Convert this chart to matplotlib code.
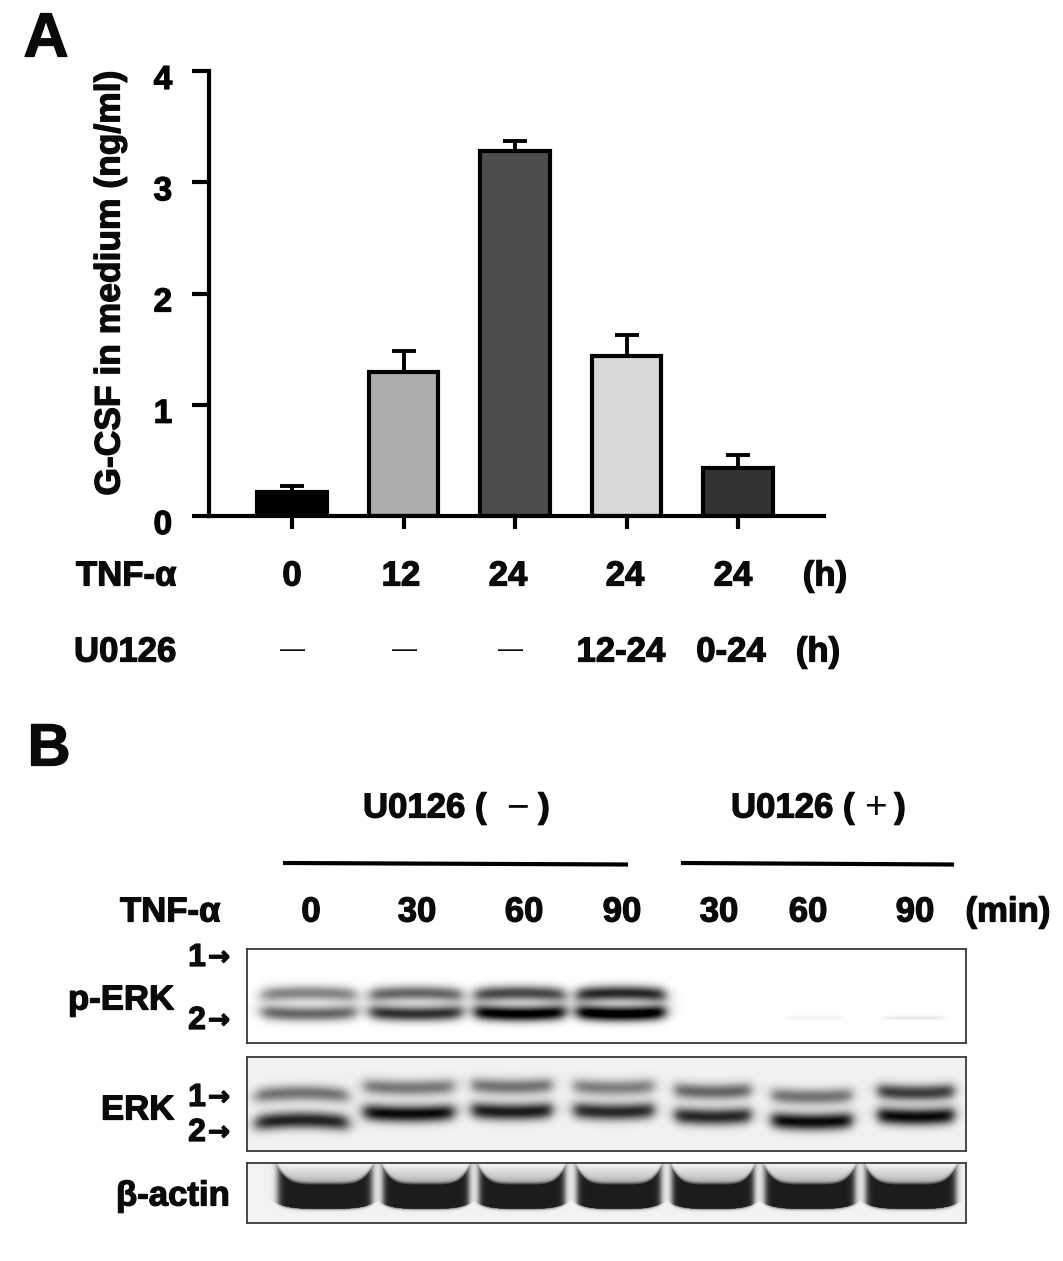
import numpy as np
import matplotlib
matplotlib.use("Agg")
import matplotlib.pyplot as plt
import matplotlib.patheffects as pe
from matplotlib.transforms import ScaledTranslation

plt.rcParams['font.family'] = ['Liberation Sans', 'DejaVu Sans']
plt.rcParams['font.weight'] = 'bold'

# ---------- panel A data ----------
groups = ['0', '12', '24', '24', '24']
u0126_labels = ['—', '—', '—', '12-24', '0-24']
gcsf = [0.22, 1.29, 3.28, 1.44, 0.43]
gcsf_err = [0.05, 0.19, 0.09, 0.19, 0.12]
bar_colors = ['#000000', '#adadad', '#4d4d4d', '#d9d9d9', '#333333']
y_ticks = [0, 1, 2, 3, 4]

# ---------- panel B data (relative band density per lane) ----------
time_labels = ['0', '30', '60', '90', '30', '60', '90']
perk_upper = [0.48, 0.60, 0.72, 0.85, 0.0, 0.0, 0.0]
perk_lower = [0.60, 0.82, 1.05, 1.10, 0.0, 0.06, 0.08]
erk_upper = [0.50, 0.48, 0.50, 0.45, 0.55, 0.50, 0.72]
erk_lower = [0.82, 0.92, 0.85, 0.80, 0.80, 0.92, 0.92]
actin_band = [0.84, 0.84, 0.84, 0.84, 0.84, 0.84, 0.84]

W, H = 1063, 1261
fig = plt.figure(figsize=(W / 100, H / 100), dpi=100, facecolor='white')
heavy = [pe.withStroke(linewidth=0.9, foreground='#0a0a0a')]


def px_axes(l, t, r, b, **kw):
    return fig.add_axes([l / W, 1 - b / H, (r - l) / W, (b - t) / H], **kw)


# ---------- bar chart ----------
step = 111.5
x0 = 292
ax = px_axes(209, 71, 824, 516)
ax.set_xlim((209 - x0) / step, (824 - x0) / step)
ax.set_ylim(0, 4)
xpos = np.arange(len(gcsf))
ax.errorbar(xpos, gcsf, yerr=[np.zeros(5), gcsf_err], fmt='none', ecolor='black',
            elinewidth=2.8, capsize=8.5, capthick=2.8, zorder=1)
ax.bar(xpos, gcsf, width=0.62, color=bar_colors, edgecolor='black', linewidth=3, zorder=2)
for s in ('top', 'right'):
    ax.spines[s].set_visible(False)
ax.spines['left'].set_linewidth(3)
ax.spines['bottom'].set_linewidth(3)
ax.set_yticks(y_ticks)
ax.set_xticks(xpos)
ax.set_xticklabels([])
ax.tick_params(axis='y', length=12.5, width=3, pad=14, labelsize=24)
ax.tick_params(axis='x', length=9, width=3)
shift = ScaledTranslation(0, -6 / 100, fig.dpi_scale_trans)
for lab in ax.get_yticklabels():
    lab.set_transform(lab.get_transform() + shift)
    lab.set_fontweight('bold')
    lab.set_path_effects(heavy)


# ---------- blots ----------
def band_image(l, t, r, b, lanes, bg):
    xs, ys = np.meshgrid(np.arange(l, r) + 0.5, np.arange(t, b) + 0.5)
    dens = np.zeros_like(xs)
    for c, hw, yc, sig, amp, curve in lanes:
        u = (xs - c) / hw
        prof_x = 0.5 * (np.tanh((u + 1) * 6) - np.tanh((u - 1) * 6))
        dens += amp * prof_x * np.exp(-((ys - yc + curve * u ** 2) / sig) ** 2)
    return np.clip(bg - dens, 0, 1)


def draw_blot(l, t, r, b, img):
    a = px_axes(l, t, r, b)
    a.imshow(img, cmap='gray', vmin=0, vmax=1, aspect='auto',
             extent=(l, r, b, t), interpolation='bilinear')
    a.set_xticks([])
    a.set_yticks([])
    for s in a.spines.values():
        s.set_linewidth(1.3)
        s.set_color('#3a3a3a')


perk_x = [309, 416, 520, 621, 716, 815, 914]
perk_hw = [47, 46, 45, 44, 28, 28, 30]
lanes = []
for i in range(7):
    lanes.append((perk_x[i], perk_hw[i], 993, 7.5, perk_upper[i], -2))
    faint = i > 4
    lanes.append((perk_x[i], perk_hw[i], 1018 if faint else 1014, 2 if faint else 7.5, perk_lower[i], 2 * (not faint)))
draw_blot(247, 949, 966, 1043, band_image(247, 949, 966, 1043, lanes, 1.0))

erk_x = [302, 409, 512, 614, 713, 812, 916]
erk_hw = [46, 45, 40, 40, 38, 40, 38]
erk_uy = [1093, 1088, 1087, 1088, 1092, 1097, 1093]
erk_ly = [1120, 1114, 1112, 1112, 1117, 1122, 1117]
lanes = []
for i in range(7):
    lanes.append((erk_x[i], erk_hw[i], erk_uy[i], 8, erk_upper[i], 2 if i else -3))
    lanes.append((erk_x[i], erk_hw[i], erk_ly[i], 8.5, erk_lower[i], 2 if i else -3))
draw_blot(247, 1057, 966, 1151, band_image(247, 1057, 966, 1151, lanes, 0.95))

act_x = [325, 426, 522, 619, 713, 810, 911]
act_hw = [47, 43, 43, 42, 41, 45, 45]
xs, ys = np.meshgrid(np.arange(247, 966) + 0.5, np.arange(1163, 1223) + 0.5)
dens = np.zeros_like(xs)
for i in range(7):
    u = (xs - act_x[i]) / act_hw[i]
    px = 0.5 * (np.tanh((u + 1) * 12) - np.tanh((u - 1) * 12))
    top = 1184 - 18 * np.abs(u) ** 5
    bot = 1209 - 5 * u ** 4
    core = 0.5 * (np.tanh((ys - top) / 2.5) - np.tanh((ys - bot) / 1.8))
    halo = 0.3 * np.clip((ys - 1164) / 20, 0, 1) * (ys < bot)
    dens += actin_band[i] * px * np.clip(core + halo, 0, 1)
draw_blot(247, 1163, 966, 1223, np.clip(0.95 - dens, 0, 1))

# ---------- overlay text ----------
ov = fig.add_axes([0, 0, 1, 1], zorder=5)
ov.set_xlim(0, W)
ov.set_ylim(H, 0)
ov.axis('off')
fs = 25


def T(x, y, s, ha='center', size=fs, weight='bold', **kw):
    t = ov.text(x, y + 2, s, ha=ha, va='center', fontsize=size, fontweight=weight, color='#0a0a0a', **kw)
    if weight == 'bold':
        t.set_path_effects(heavy)


T(46, 38, 'A', size=45)
T(49, 748, 'B', size=43)
T(110, 281, 'G-CSF in medium (ng/ml)', size=25.5, rotation=90)

T(76, 574, 'TNF-α', ha='left')
for xc, s in zip([292, 401, 508, 625, 733], groups):
    T(xc, 574, s)
T(825, 574, '(h)')
T(74, 650, 'U0126', ha='left')
for xc, s in zip([292, 404, 510, 621, 731], u0126_labels):
    if s == '—':
        T(xc, 648, s, weight='normal', size=18)
    else:
        T(xc, 650, s)
T(818, 650, '(h)')

T(363, 806, 'U0126 (', ha='left')
T(518, 806, '−', weight='normal', size=28)
T(544, 806, ')')
T(731, 806, 'U0126 (', ha='left')
T(875, 806, '+', weight='normal', size=28)
T(900, 806, ')')
ov.plot([285, 626], [863, 864.5], color='black', lw=3)
ov.plot([683, 952], [863, 864.5], color='black', lw=3)

T(120, 910, 'TNF-α', ha='left')
for xc, s in zip([311, 417, 524, 622, 719, 808, 915], time_labels):
    T(xc, 910, s)
T(1008, 910, '(min)')

T(68, 998, 'p-ERK', ha='left')
T(101, 1108, 'ERK', ha='left')
T(116, 1194, 'β-actin', ha='left')
for y, s in [(956, '1'), (1019, '2'), (1096, '1'), (1131, '2')]:
    T(197, y, s, size=23)
    T(219, y, '→', size=19, family='DejaVu Sans')

fig.savefig('out.png', dpi=100)
